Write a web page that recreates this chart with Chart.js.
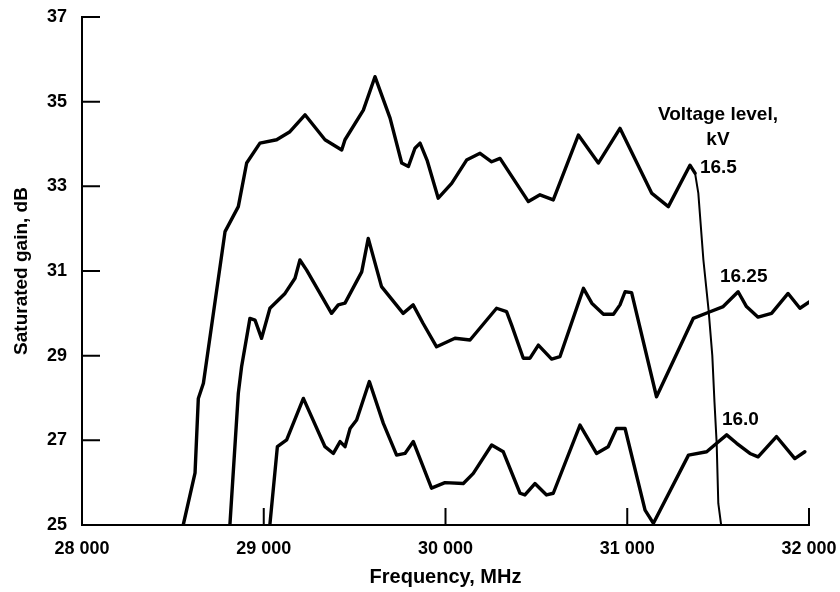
<!DOCTYPE html>
<html>
<head>
<meta charset="utf-8">
<title>Saturated gain vs frequency</title>
<script src="https://cdn.jsdelivr.net/npm/chart.js@4.4.1/dist/chart.umd.min.js"></script>
<style>
    html, body { margin: 0; padding: 0; background: #fff; }
    #wrap { width: 840px; height: 592px; }
</style>
</head>
<body>
<div id="wrap"><canvas id="gainChart" width="840" height="592"></canvas></div>
<script>
// Data (frequency in MHz, gain in dB)
const freq165 = [28557, 28622, 28640, 28668, 28787, 28860, 28906, 28979, 29071, 29144, 29227, 29337, 29429, 29447,
    29548, 29612, 29695, 29759, 29796, 29832, 29860, 29900, 29960, 30034, 30116, 30190, 30254, 30300, 30456, 30520,
    30593, 30731, 30841, 30960, 31134, 31226, 31345, 31373, 31391, 31419, 31447, 31468, 31480, 31492, 31501, 31516];
const gain165 = [25.0, 26.23, 27.99, 28.35, 31.93, 32.52, 33.55, 34.02, 34.10, 34.29, 34.69, 34.10, 33.86, 34.10,
    34.80, 35.59, 34.61, 33.55, 33.47, 33.90, 34.02, 33.60, 32.72, 33.07, 33.62, 33.78, 33.58, 33.66, 32.64, 32.80,
    32.68, 34.21, 33.55, 34.37, 32.84, 32.52, 33.50, 33.31, 32.84, 31.26, 30.10, 29.00, 27.90, 26.93, 25.51, 25.02];

const freq1625 = [28814, 28860, 28878, 28924, 28952, 28988, 29034, 29117, 29172, 29199, 29236, 29373, 29410, 29447,
    29539, 29575, 29648, 29767, 29822, 29877, 29951, 30052, 30135, 30281, 30336, 30364, 30428, 30465, 30511, 30584,
    30630, 30759, 30805, 30869, 30924, 30960, 30988, 31024, 31161, 31363, 31445, 31528, 31610, 31656, 31720, 31794,
    31885, 31950, 32033];
const gain1625 = [25.02, 28.11, 28.74, 29.88, 29.84, 29.41, 30.12, 30.47, 30.83, 31.26, 31.02, 30.00, 30.20, 30.24,
    30.98, 31.77, 30.63, 30.00, 30.20, 29.76, 29.21, 29.41, 29.37, 30.12, 30.04, 29.72, 28.94, 28.94, 29.25, 28.92,
    28.98, 30.59, 30.24, 29.98, 29.98, 30.20, 30.51, 30.49, 28.03, 29.88, 30.02, 30.16, 30.51, 30.16, 29.91, 30.00,
    30.47, 30.12, 30.36];

const freq160 = [29034, 29075, 29126, 29218, 29337, 29383, 29420, 29447, 29475, 29511, 29581, 29658, 29731, 29777,
    29823, 29923, 29997, 30098, 30153, 30254, 30318, 30410, 30437, 30492, 30556, 30593, 30740, 30831, 30895, 30941,
    30988, 31098, 31144, 31337, 31437, 31492, 31547, 31602, 31675, 31720, 31821, 31922, 31977];
const gain160 = [25.02, 26.85, 27.01, 27.99, 26.85, 26.69, 26.97, 26.85, 27.28, 27.48, 28.39, 27.40, 26.65, 26.69,
    26.97, 25.87, 26.00, 25.98, 26.22, 26.89, 26.73, 25.75, 25.71, 25.98, 25.71, 25.75, 27.36, 26.69, 26.85, 27.28,
    27.28, 25.35, 25.04, 26.65, 26.73, 26.93, 27.13, 26.93, 26.69, 26.61, 27.09, 26.57, 26.73];

// Axis ranges and tick labels
const xMin = 28000, xMax = 32000, xStep = 1000;
const yMin = 25, yMax = 37, yStep = 2;
const xTickLabels = ["28 000", "29 000", "30 000", "31 000", "32 000"];

// Text labels on the plot (placed in data units)
const notes = [
    { text: "Voltage level,", x: 31499, y: 34.69, align: "center" },
    { text: "kV", x: 31499, y: 34.10, align: "center" },
    { text: "16.5", x: 31400, y: 33.43, align: "left" },
    { text: "16.25", x: 31510, y: 30.86, align: "left" },
    { text: "16.0", x: 31521, y: 27.48, align: "left" }
];

function toPoints(xs, ys) {
    return xs.map((x, i) => ({ x: x, y: ys[i] }));
}

const FONT = "'Liberation Sans', Arial, Helvetica, sans-serif";

function lineSet(label, xs, ys) {
    return {
        label: label,
        data: toPoints(xs, ys),
        borderColor: "#000",
        borderWidth: 3.4,
        borderJoinStyle: "round",
        borderCapStyle: "round",
        pointRadius: 0,
        tension: 0,
        showLine: true,
        fill: false
    };
}

// Inward tick marks, as on the original plot
const innerTicks = {
    id: "innerTicks",
    afterDraw(chart) {
        const c = chart.ctx;
        const area = chart.chartArea;
        const xs = chart.scales.x;
        const ys = chart.scales.y;
        c.save();
        c.strokeStyle = "#000";
        c.lineWidth = 2;
        c.beginPath();
        ys.ticks.forEach(t => {
            const py = ys.getPixelForValue(t.value);
            c.moveTo(area.left, py);
            c.lineTo(area.left + 18, py);
        });
        xs.ticks.forEach(t => {
            const px = xs.getPixelForValue(t.value);
            c.moveTo(px, area.bottom);
            c.lineTo(px, area.bottom - 17);
        });
        c.stroke();
        c.restore();
    }
};

// Curve labels
const noteLabels = {
    id: "noteLabels",
    afterDraw(chart) {
        const c = chart.ctx;
        const xs = chart.scales.x;
        const ys = chart.scales.y;
        c.save();
        c.fillStyle = "#000";
        c.font = "bold 19px " + FONT;
        c.textBaseline = "middle";
        notes.forEach(n => {
            c.textAlign = n.align;
            c.fillText(n.text, xs.getPixelForValue(n.x), ys.getPixelForValue(n.y));
        });
        c.restore();
    }
};

const ds165 = lineSet("16.5", freq165, gain165);
// the falling edge of the 16.5 kV curve is drawn thinner
ds165.segment = {
    borderWidth: ctx => ctx.p0.parsed.x >= 31373 ? 2 : 3.4
};

const chart = new Chart(document.getElementById("gainChart"), {
    type: "scatter",
    data: {
        datasets: [
            ds165,
            lineSet("16.25", freq1625, gain1625),
            lineSet("16.0", freq160, gain160)
        ]
    },
    options: {
        responsive: false,
        animation: false,
        devicePixelRatio: 1,
        layout: {
            padding: { top: 17, right: 31, left: 0, bottom: 0 }
        },
        plugins: {
            legend: { display: false },
            tooltip: { enabled: false }
        },
        scales: {
            x: {
                type: "linear",
                min: xMin,
                max: xMax,
                afterFit: s => {
                    s.height = 67;
                    s.paddingLeft = 0;
                    s.paddingRight = 0;
                },
                border: { color: "#000", width: 2 },
                grid: { drawOnChartArea: false, drawTicks: false },
                ticks: {
                    stepSize: xStep,
                    padding: 13,
                    color: "#000",
                    maxRotation: 0,
                    font: { family: FONT, size: 18, weight: "bold" },
                    callback: v => xTickLabels[Math.round((v - xMin) / xStep)]
                },
                title: {
                    display: true,
                    text: "Frequency, MHz",
                    color: "#000",
                    font: { family: FONT, size: 20, weight: "bold" },
                    padding: { top: 0, bottom: 3 }
                }
            },
            y: {
                type: "linear",
                min: yMin,
                max: yMax,
                afterFit: s => {
                    s.width = 82;
                    s.paddingTop = 0;
                    s.paddingBottom = 0;
                },
                border: { color: "#000", width: 2 },
                grid: { drawOnChartArea: false, drawTicks: false },
                ticks: {
                    stepSize: yStep,
                    padding: 15,
                    color: "#000",
                    font: { family: FONT, size: 18, weight: "bold" }
                },
                title: {
                    display: true,
                    text: "Saturated gain, dB",
                    color: "#000",
                    font: { family: FONT, size: 19, weight: "bold" },
                    padding: { top: 10, bottom: 0 }
                }
            }
        }
    },
    plugins: [innerTicks, noteLabels]
});
</script>
</body>
</html>
